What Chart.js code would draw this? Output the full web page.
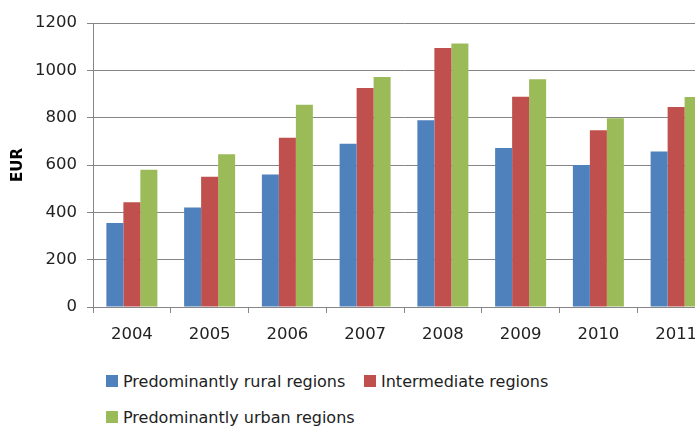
<!DOCTYPE html>
<html>
<head>
<meta charset="utf-8">
<script src="https://cdn.jsdelivr.net/npm/chart.js@4/dist/chart.umd.min.js"></script>
<style>
  html, body { margin: 0; padding: 0; background: #fff; overflow: hidden; width: 695px; height: 427px; }
  #wrap { position: absolute; left: 0; top: 0; width: 716px; height: 350px; }
  #legend { position: absolute; left: 0; top: 0; font-family: 'DejaVu Sans', sans-serif; font-size: 16px; color: #222; }
  .item { position: absolute; display: flex; align-items: center; white-space: nowrap; }
  .sw { width: 12px; height: 12px; margin-right: 5px; }
</style>
</head>
<body>
<div id="wrap"><canvas id="c" width="716" height="350"></canvas></div>
<div id="legend"></div>
<script>
const categories = ['2004', '2005', '2006', '2007', '2008', '2009', '2010', '2011'];
const seriesNames = ['Predominantly rural regions', 'Intermediate regions', 'Predominantly urban regions'];
const rural = [355, 420, 560, 690, 789, 672, 600, 657];
const intermediate = [443, 550, 715, 925, 1094, 888, 747, 845];
const urban = [580, 645, 855, 972, 1113, 962, 798, 887];
const colors = ['#4F81BD', '#C0504D', '#9BBB59'];
const yTicks = [0, 200, 400, 600, 800, 1000, 1200];

Chart.defaults.font.family = "'DejaVu Sans', sans-serif";
Chart.defaults.font.size = 16.5;
Chart.defaults.color = '#222';

const values = [rural, intermediate, urban];
const chart = new Chart(document.getElementById('c'), {
  type: 'bar',
  data: {
    labels: categories,
    datasets: seriesNames.map((n, i) => ({
      label: n, data: values[i], backgroundColor: colors[i], borderWidth: 0,
      barPercentage: 1, categoryPercentage: 0.656
    }))
  },
  options: {
    responsive: false,
    animation: false,
    layout: { padding: { top: 23, right: 1, left: 0, bottom: 0 } },
    plugins: { legend: { display: false }, tooltip: { enabled: false } },
    scales: {
      x: {
        grid: { display: true, drawOnChartArea: false, drawTicks: true, tickLength: 6, color: '#868686', offset: true },
        border: { color: '#868686' },
        ticks: { padding: 12, color: '#222' },
        afterFit: s => { s.height = 43; }
      },
      y: {
        min: 0, max: 1200,
        afterBuildTicks: s => { s.ticks = yTicks.map(v => ({ value: v })); },
        grid: { color: '#868686', tickLength: 6 },
        border: { color: '#868686' },
        ticks: { padding: 10, color: '#222', callback: v => String(v) },
        title: { display: true, text: 'EUR', font: { weight: 'bold', size: 15 }, color: '#000', padding: { top: 9, bottom: 0 } },
        afterFit: s => { s.width = 93; }
      }
    }
  }
});

const legend = document.getElementById('legend');
const pos = [[106, 381], [364, 381], [106, 417]];
seriesNames.forEach((n, i) => {
  const it = document.createElement('div');
  it.className = 'item';
  it.style.left = pos[i][0] + 'px';
  it.style.top = (pos[i][1] - 12) + 'px';
  it.style.height = '24px';
  const sw = document.createElement('span');
  sw.className = 'sw';
  sw.style.background = colors[i];
  const t = document.createElement('span');
  t.textContent = n;
  it.appendChild(sw); it.appendChild(t);
  legend.appendChild(it);
});
</script>
</body>
</html>
